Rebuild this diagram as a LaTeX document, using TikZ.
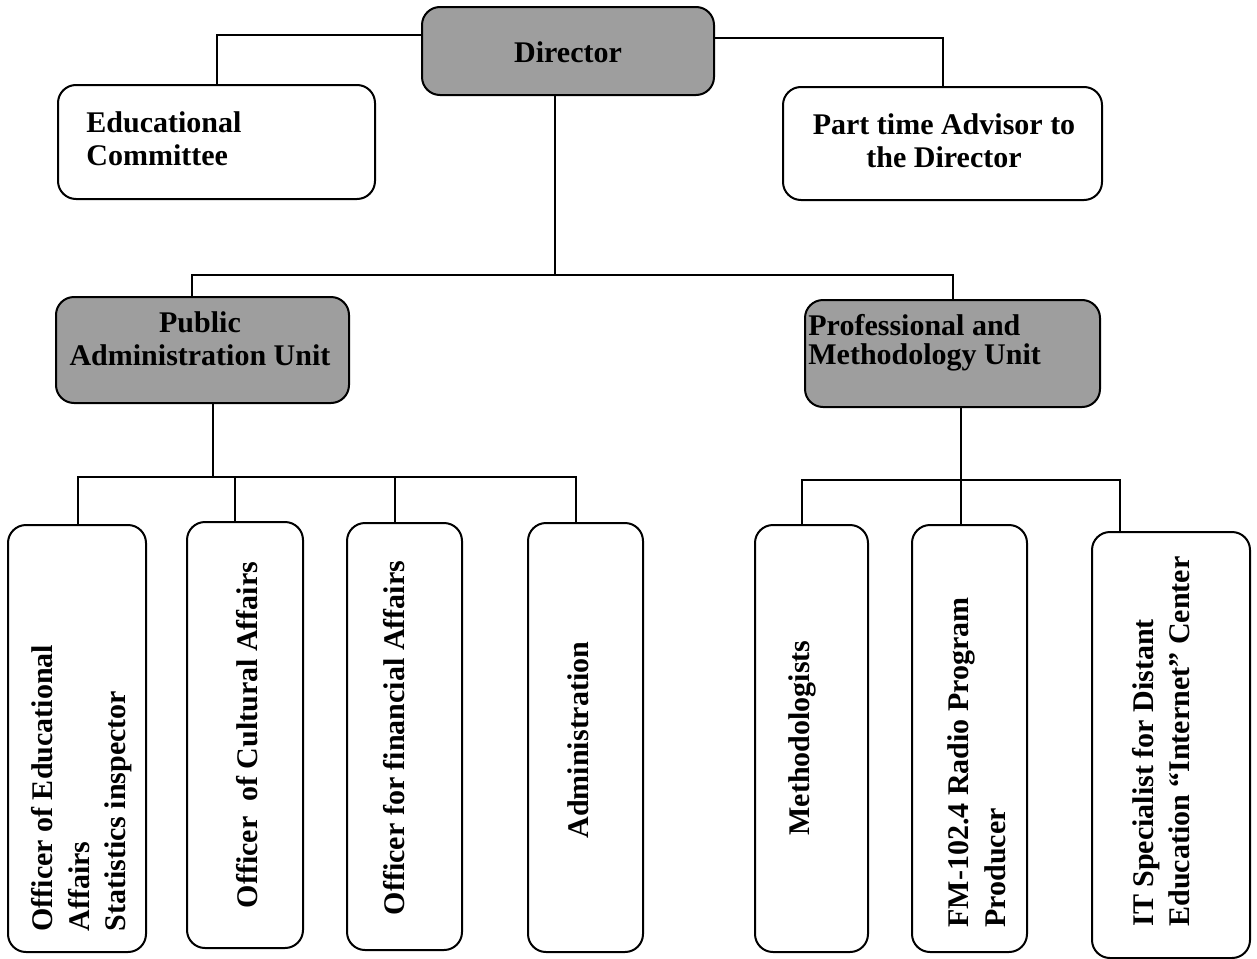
\documentclass[tikz,border=0pt]{standalone}
\usepackage{fontspec}
\setmainfont{Liberation Serif}
\begin{document}
\begin{tikzpicture}[x=0.5pt,y=-0.5pt,
  box/.style={draw, line width=1pt, rounded corners=9pt, fill=white, inner sep=0pt},
  unit/.style={box, fill=black!38},
  lbl/.style={inner sep=0pt, font=\bfseries\fontsize{15}{16.5}\selectfont},
  vlbl/.style={inner sep=0pt, rotate=90, font=\bfseries\fontsize{15}{18.25}\selectfont},
  link/.style={line width=1pt}]
\useasboundingbox (0,0) rectangle (1257,958);

% top level
\node[unit, minimum width=146pt, minimum height=44pt] (dir) at (568,51) {};
\node[lbl] at (568,52) {Director};

\node[box, minimum width=158.5pt, minimum height=57pt] (ed) at (216.5,142) {};
\node[lbl, align=left, anchor=west] at (86,138.5) {Educational\\Committee};

\node[box, minimum width=159.5pt, minimum height=56.5pt] (adv) at (942.5,143.5) {};
\node[lbl, align=center] at (944,141) {Part time Advisor to\\the Director};

% units
\node[unit, minimum width=146.5pt, minimum height=53pt] (pub) at (202.5,350) {};
\node[lbl, align=center] at (200,339) {Public\\Administration Unit};

\node[unit, minimum width=147.5pt, minimum height=53.5pt] (prof) at (952.5,353.5) {};
\node[lbl, align=left, anchor=west, font=\bfseries\fontsize{15}{14.5}\selectfont] at (808,342.5) {Professional and\\Methodology Unit};

% staff positions
\node[box, minimum width=69pt,   minimum height=213.5pt] (b1) at (77,738.5) {};
\node[box, minimum width=58pt,   minimum height=213pt]   (b2) at (245,735) {};
\node[box, minimum width=57.5pt, minimum height=213.5pt] (b3) at (404.5,736.5) {};
\node[box, minimum width=57.5pt, minimum height=214.5pt] (b4) at (585.5,737.5) {};
\node[box, minimum width=56.5pt, minimum height=213.5pt] (b5) at (811.5,738.5) {};
\node[box, minimum width=57.5pt, minimum height=213.5pt] (b6) at (969.5,738.5) {};
\node[box, minimum width=79pt,   minimum height=213pt]   (b7) at (1171,745) {};

\node[vlbl, align=left, anchor=west] at (82,932) {Officer of Educational\\Affairs\\Statistics inspector};
\node[vlbl] at (247,735) {Officer\ \ of Cultural Affairs};
\node[vlbl] at (394,738) {Officer for financial Affairs};
\node[vlbl] at (578,740) {Administration};
\node[vlbl] at (802,738) {Methodologists};
\node[vlbl, align=left, anchor=west] at (977,928) {FM-102.4 Radio Program\\Producer};
\node[vlbl, align=left, anchor=west] at (1161,927) {IT Specialist for Distant\\Education “Internet” Center};

% junction points
\coordinate (jl) at (217,35);
\coordinate (jr) at (943,38);
\coordinate (hub) at (555,275);
\coordinate (pl) at (192,275);
\coordinate (pr) at (953,275);
\coordinate (pd) at (213,477);
\coordinate (d1) at (78,477);
\coordinate (d2) at (235,477);
\coordinate (d3) at (395,477);
\coordinate (d4) at (576,477);
\coordinate (qd) at (961,480);
\coordinate (e5) at (802,480);
\coordinate (e7) at (1120,480);

% connectors
\draw[link] (dir.west |- jl) -| (ed.north -| jl);
\draw[link] (dir.east |- jr) -| (adv.north -| jr);
\draw[link] (dir.south -| hub) -- (hub);
\draw[link] (pub.north -| pl) -- (pl) -- (pr) -- (prof.north -| pr);

\draw[link] (pub.south -| pd) -- (pd);
\draw[link] (b1.north -| d1) -- (d1) -- (d4) -- (b4.north -| d4);
\draw[link] (d2) -- (b2.north -| d2);
\draw[link] (d3) -- (b3.north -| d3);

\draw[link] (prof.south -| qd) -- (b6.north -| qd);
\draw[link] (b5.north -| e5) -- (e5) -- (e7) -- (b7.north -| e7);
\end{tikzpicture}
\end{document}
